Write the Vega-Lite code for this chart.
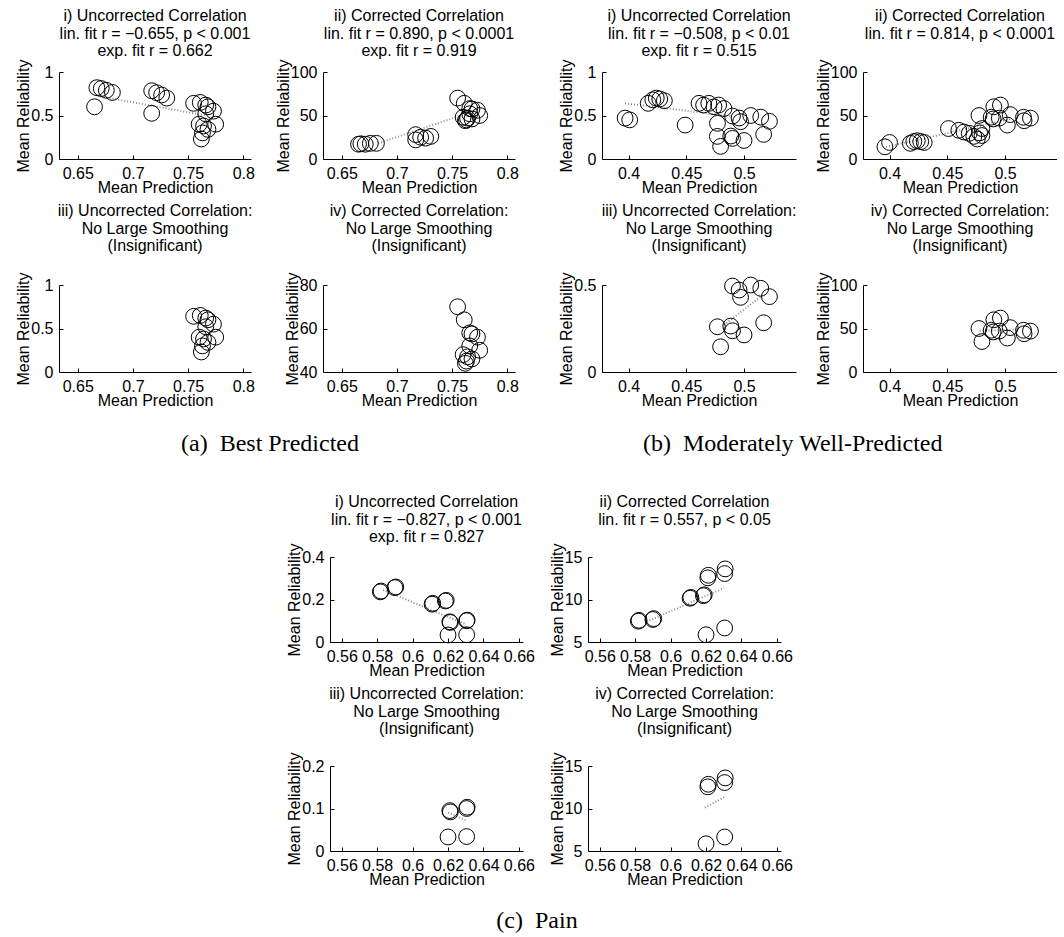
{
"$schema": "https://vega.github.io/schema/vega-lite/v6.json",
"padding": 0,
"config": {
 "view": {"stroke": null},
 "font": "Liberation Sans",
 "axis": {"domainColor": "black", "domainWidth": 1, "tickColor": "black", "tickWidth": 1, "tickSize": -4, "labelColor": "black", "titleColor": "black", "labelFont": "Liberation Sans", "titleFont": "Liberation Sans", "labelFontSize": 16, "titleFontSize": 16, "titleFontWeight": "normal", "grid": false, "labelFlush": false, "labelOverlap": false, "labelPadding": 10},
 "axisX": {"titlePadding": -2},
 "axisY": {"titlePadding": -1},
 "title": {"font": "Liberation Sans", "fontSize": 16, "fontWeight": "normal", "color": "black", "lineHeight": 17.5, "frame": "group", "anchor": "middle"},
 "point": {"shape": "circle", "filled": false, "stroke": "black", "strokeWidth": 1, "size": 250, "opacity": 1},
 "line": {"stroke": "#8c8c8c", "strokeDash": [1, 2], "strokeWidth": 2}
},
"datasets": {
 "a1": [{"pred":0.6652,"rel":0.60},{"pred":0.6673,"rel":0.82},{"pred":0.6713,"rel":0.81},{"pred":0.6759,"rel":0.79},{"pred":0.6814,"rel":0.765},{"pred":0.717,"rel":0.785},{"pred":0.7215,"rel":0.762},{"pred":0.726,"rel":0.736},{"pred":0.7307,"rel":0.70},{"pred":0.717,"rel":0.525},{"pred":0.755,"rel":0.64},{"pred":0.761,"rel":0.65},{"pred":0.766,"rel":0.62},{"pred":0.768,"rel":0.60},{"pred":0.773,"rel":0.55},{"pred":0.775,"rel":0.40},{"pred":0.760,"rel":0.40},{"pred":0.764,"rel":0.38},{"pred":0.768,"rel":0.34},{"pred":0.763,"rel":0.30},{"pred":0.762,"rel":0.23},{"pred":0.766,"rel":0.52}],
 "a2": [{"pred":0.6652,"rel":17},{"pred":0.6673,"rel":17.5},{"pred":0.6713,"rel":17},{"pred":0.6759,"rel":18},{"pred":0.6814,"rel":18},{"pred":0.717,"rel":28},{"pred":0.7215,"rel":25},{"pred":0.726,"rel":24},{"pred":0.7307,"rel":26},{"pred":0.717,"rel":22},{"pred":0.755,"rel":70},{"pred":0.761,"rel":64},{"pred":0.766,"rel":58},{"pred":0.768,"rel":57.5},{"pred":0.773,"rel":56},{"pred":0.775,"rel":50},{"pred":0.760,"rel":48},{"pred":0.764,"rel":47},{"pred":0.768,"rel":46},{"pred":0.763,"rel":45},{"pred":0.762,"rel":44},{"pred":0.766,"rel":52}],
 "a3": [{"pred":0.755,"rel":0.64},{"pred":0.761,"rel":0.65},{"pred":0.766,"rel":0.62},{"pred":0.768,"rel":0.60},{"pred":0.773,"rel":0.55},{"pred":0.775,"rel":0.40},{"pred":0.760,"rel":0.40},{"pred":0.764,"rel":0.38},{"pred":0.768,"rel":0.34},{"pred":0.763,"rel":0.30},{"pred":0.762,"rel":0.23},{"pred":0.766,"rel":0.52}],
 "a4": [{"pred":0.755,"rel":70},{"pred":0.761,"rel":64},{"pred":0.766,"rel":58},{"pred":0.768,"rel":57.5},{"pred":0.773,"rel":56},{"pred":0.775,"rel":50},{"pred":0.760,"rel":48},{"pred":0.764,"rel":47},{"pred":0.768,"rel":46},{"pred":0.763,"rel":45},{"pred":0.762,"rel":44},{"pred":0.766,"rel":52}],
 "fa1": [{"pred":0.668,"rel":0.725},{"pred":0.766,"rel":0.50}],
 "fa2": [{"pred":0.683,"rel":18},{"pred":0.758,"rel":50}],
 "b1": [{"pred":0.397,"rel":0.47},{"pred":0.401,"rel":0.45},{"pred":0.417,"rel":0.64},{"pred":0.421,"rel":0.68},{"pred":0.424,"rel":0.70},{"pred":0.427,"rel":0.69},{"pred":0.431,"rel":0.67},{"pred":0.449,"rel":0.39},{"pred":0.461,"rel":0.64},{"pred":0.465,"rel":0.62},{"pred":0.4695,"rel":0.64},{"pred":0.474,"rel":0.60},{"pred":0.478,"rel":0.62},{"pred":0.4826,"rel":0.58},{"pred":0.477,"rel":0.41},{"pred":0.490,"rel":0.494},{"pred":0.4957,"rel":0.471},{"pred":0.497,"rel":0.429},{"pred":0.5058,"rel":0.50},{"pred":0.5145,"rel":0.481},{"pred":0.522,"rel":0.433},{"pred":0.4769,"rel":0.26},{"pred":0.4885,"rel":0.264},{"pred":0.490,"rel":0.237},{"pred":0.500,"rel":0.213},{"pred":0.4797,"rel":0.145},{"pred":0.517,"rel":0.283}],
 "b2": [{"pred":0.396,"rel":14},{"pred":0.400,"rel":19},{"pred":0.418,"rel":18},{"pred":0.421,"rel":20},{"pred":0.424,"rel":21},{"pred":0.427,"rel":20},{"pred":0.430,"rel":19},{"pred":0.451,"rel":35},{"pred":0.460,"rel":33},{"pred":0.4645,"rel":31},{"pred":0.469,"rel":29.5},{"pred":0.473,"rel":26},{"pred":0.476,"rel":23},{"pred":0.480,"rel":27},{"pred":0.478,"rel":30},{"pred":0.4774,"rel":50},{"pred":0.480,"rel":35},{"pred":0.488,"rel":48},{"pred":0.4903,"rel":60},{"pred":0.496,"rel":62},{"pred":0.4897,"rel":46},{"pred":0.495,"rel":47},{"pred":0.502,"rel":39},{"pred":0.5045,"rel":51},{"pred":0.516,"rel":48},{"pred":0.522,"rel":47},{"pred":0.5165,"rel":44}],
 "b3": [{"pred":0.490,"rel":0.494},{"pred":0.4957,"rel":0.471},{"pred":0.497,"rel":0.429},{"pred":0.5058,"rel":0.50},{"pred":0.5145,"rel":0.481},{"pred":0.522,"rel":0.433},{"pred":0.4769,"rel":0.26},{"pred":0.4885,"rel":0.264},{"pred":0.490,"rel":0.237},{"pred":0.500,"rel":0.213},{"pred":0.4797,"rel":0.145},{"pred":0.517,"rel":0.283}],
 "b4": [{"pred":0.4774,"rel":50},{"pred":0.480,"rel":35},{"pred":0.488,"rel":48},{"pred":0.4903,"rel":60},{"pred":0.496,"rel":62},{"pred":0.4897,"rel":46},{"pred":0.495,"rel":47},{"pred":0.502,"rel":39},{"pred":0.5045,"rel":51},{"pred":0.516,"rel":48},{"pred":0.522,"rel":47},{"pred":0.5165,"rel":44}],
 "fb1": [{"pred":0.397,"rel":0.64},{"pred":0.49,"rel":0.49}],
 "fb2": [{"pred":0.397,"rel":14},{"pred":0.505,"rel":46}],
 "fb3": [{"pred":0.4826,"rel":0.27},{"pred":0.5145,"rel":0.433}],
 "fb4": [{"pred":0.478,"rel":47},{"pred":0.512,"rel":49}],
 "c1": [{"pred":0.5818,"rel":0.236},{"pred":0.5822,"rel":0.240},{"pred":0.5900,"rel":0.256},{"pred":0.5905,"rel":0.259},{"pred":0.6110,"rel":0.178},{"pred":0.6114,"rel":0.182},{"pred":0.6185,"rel":0.193},{"pred":0.6190,"rel":0.196},{"pred":0.6210,"rel":0.095},{"pred":0.6213,"rel":0.092},{"pred":0.6305,"rel":0.100},{"pred":0.6308,"rel":0.103},{"pred":0.6200,"rel":0.033},{"pred":0.6305,"rel":0.034}],
 "c2": [{"pred":0.5818,"rel":7.45},{"pred":0.5822,"rel":7.55},{"pred":0.5900,"rel":7.65},{"pred":0.5905,"rel":7.75},{"pred":0.6110,"rel":10.15},{"pred":0.6114,"rel":10.25},{"pred":0.6185,"rel":10.45},{"pred":0.6190,"rel":10.55},{"pred":0.6210,"rel":12.55},{"pred":0.6213,"rel":12.85},{"pred":0.6305,"rel":13.05},{"pred":0.6308,"rel":13.6},{"pred":0.6200,"rel":5.85},{"pred":0.6305,"rel":6.65}],
 "c3": [{"pred":0.6210,"rel":0.095},{"pred":0.6213,"rel":0.092},{"pred":0.6305,"rel":0.100},{"pred":0.6308,"rel":0.103},{"pred":0.6200,"rel":0.033},{"pred":0.6305,"rel":0.034}],
 "c4": [{"pred":0.6210,"rel":12.55},{"pred":0.6213,"rel":12.85},{"pred":0.6305,"rel":13.05},{"pred":0.6308,"rel":13.6},{"pred":0.6200,"rel":5.85},{"pred":0.6305,"rel":6.65}],
 "fc1": [{"pred":0.5834,"rel":0.245},{"pred":0.6303,"rel":0.082}],
 "fc2": [{"pred":0.5865,"rel":7.4},{"pred":0.6302,"rel":11.35}],
 "fc3": [{"pred":0.620,"rel":0.09},{"pred":0.630,"rel":0.0725}],
 "fc4": [{"pred":0.6193,"rel":10.1},{"pred":0.6313,"rel":11.45}],
 "capa": [{"cap":"(a)\u00a0 Best Predicted"}],
 "capb": [{"cap":"(b)\u00a0 Moderately Well-Predicted"}],
 "capc": [{"cap":"(c)\u00a0 Pain"}],
 "none": []
},
"spacing": 0,
"vconcat": [
{
"columns": 8,
"spacing": 0,
"bounds": "flush",
"concat": [
 {"width":59,"height":72,"data":{"name":"none"},"mark":"text"},
 {"width":1,"height":1,"data":{"name":"none"},"mark":"text"},
 {"width":1,"height":1,"data":{"name":"none"},"mark":"text"},
 {"width":1,"height":1,"data":{"name":"none"},"mark":"text"},
 {"width":1,"height":1,"data":{"name":"none"},"mark":"text"},
 {"width":1,"height":1,"data":{"name":"none"},"mark":"text"},
 {"width":1,"height":1,"data":{"name":"none"},"mark":"text"},
 {"width":1,"height":1,"data":{"name":"none"},"mark":"text"},

 {"width":59,"height":1,"data":{"name":"none"},"mark":"text"},
 {"width":192,"height":87,
  "title":{"text":["i) Uncorrected Correlation","lin. fit r = \u22120.655, p < 0.001","exp. fit r = 0.662"],"offset":0},
  "encoding":{"x":{"field":"pred","type":"quantitative","scale":{"domain":[0.633,0.807],"nice":false,"zero":false},"axis":{"title":"Mean Prediction","values":[0.65,0.7,0.75,0.8],"format":"~r"}},
   "y":{"field":"rel","type":"quantitative","scale":{"domain":[0,1],"nice":false,"zero":false},"axis":{"title":"Mean Reliability","values":[0,0.5,1],"format":"~r"}}},
  "layer":[{"data":{"name":"fa1"},"mark":"line","encoding":{}},{"data":{"name":"a1"},"mark":"point"}]},
 {"width":72,"height":213,"data":{"name":"none"},"mark":"text"},
 {"width":192,"height":87,
  "title":{"text":["ii) Corrected Correlation","lin. fit r = 0.890, p < 0.0001","exp. fit r = 0.919"],"offset":0},
  "encoding":{"x":{"field":"pred","type":"quantitative","scale":{"domain":[0.633,0.807],"nice":false,"zero":false},"axis":{"title":"Mean Prediction","values":[0.65,0.7,0.75,0.8],"format":"~r"}},
   "y":{"field":"rel","type":"quantitative","scale":{"domain":[0,100],"nice":false,"zero":false},"axis":{"title":"Mean Reliability","values":[0,50,100],"format":"~r"}}},
  "layer":[{"data":{"name":"fa2"},"mark":"line","encoding":{}},{"data":{"name":"a2"},"mark":"point"}]},
 {"width":87,"height":1,"data":{"name":"none"},"mark":"text"},
 {"width":194,"height":87,
  "title":{"text":["i) Uncorrected Correlation","lin. fit r = \u22120.508, p < 0.01","exp. fit r = 0.515"],"offset":0},
  "encoding":{"x":{"field":"pred","type":"quantitative","scale":{"domain":[0.377,0.545],"nice":false,"zero":false},"axis":{"title":"Mean Prediction","values":[0.4,0.45,0.5],"format":"~r"}},
   "y":{"field":"rel","type":"quantitative","scale":{"domain":[0,1],"nice":false,"zero":false},"axis":{"title":"Mean Reliability","values":[0,0.5,1],"format":"~r"}}},
  "layer":[{"data":{"name":"fb1"},"mark":"line","encoding":{}},{"data":{"name":"b1"},"mark":"point"}]},
 {"width":67,"height":1,"data":{"name":"none"},"mark":"text"},
 {"width":194,"height":87,
  "title":{"text":["ii) Corrected Correlation","lin. fit r = 0.814, p < 0.0001"],"offset":17.5},
  "encoding":{"x":{"field":"pred","type":"quantitative","scale":{"domain":[0.377,0.545],"nice":false,"zero":false},"axis":{"title":"Mean Prediction","values":[0.4,0.45,0.5],"format":"~r"}},
   "y":{"field":"rel","type":"quantitative","scale":{"domain":[0,100],"nice":false,"zero":false},"axis":{"title":"Mean Reliability","values":[0,50,100],"format":"~r"}}},
  "layer":[{"data":{"name":"fb2"},"mark":"line","encoding":{}},{"data":{"name":"b2"},"mark":"point"}]},

 {"width":59,"height":1,"data":{"name":"none"},"mark":"text"},
 {"width":192,"height":87,
  "title":{"text":["iii) Uncorrected Correlation:","No Large Smoothing","(Insignificant)"],"offset":18},
  "data":{"name":"a3"},"mark":"point",
  "encoding":{"x":{"field":"pred","type":"quantitative","scale":{"domain":[0.633,0.807],"nice":false,"zero":false},"axis":{"title":"Mean Prediction","values":[0.65,0.7,0.75,0.8],"format":"~r"}},
   "y":{"field":"rel","type":"quantitative","scale":{"domain":[0,1],"nice":false,"zero":false},"axis":{"title":"Mean Reliability","values":[0,0.5,1],"format":"~r"}}}},
 {"width":72,"height":87,"data":{"name":"none"},"mark":"text"},
 {"width":192,"height":87,
  "title":{"text":["iv) Corrected Correlation:","No Large Smoothing","(Insignificant)"],"offset":18},
  "data":{"name":"a4"},"mark":"point",
  "encoding":{"x":{"field":"pred","type":"quantitative","scale":{"domain":[0.633,0.807],"nice":false,"zero":false},"axis":{"title":"Mean Prediction","values":[0.65,0.7,0.75,0.8],"format":"~r"}},
   "y":{"field":"rel","type":"quantitative","scale":{"domain":[40,80],"nice":false,"zero":false},"axis":{"title":"Mean Reliability","values":[40,60,80],"format":"~r"}}}},
 {"width":87,"height":1,"data":{"name":"none"},"mark":"text"},
 {"width":194,"height":87,
  "title":{"text":["iii) Uncorrected Correlation:","No Large Smoothing","(Insignificant)"],"offset":18},
  "encoding":{"x":{"field":"pred","type":"quantitative","scale":{"domain":[0.377,0.545],"nice":false,"zero":false},"axis":{"title":"Mean Prediction","values":[0.4,0.45,0.5],"format":"~r"}},
   "y":{"field":"rel","type":"quantitative","scale":{"domain":[0,0.5],"nice":false,"zero":false},"axis":{"title":"Mean Reliability","values":[0,0.5],"format":"~r"}}},
  "layer":[{"data":{"name":"fb3"},"mark":"line","encoding":{}},{"data":{"name":"b3"},"mark":"point"}]},
 {"width":67,"height":1,"data":{"name":"none"},"mark":"text"},
 {"width":194,"height":87,
  "title":{"text":["iv) Corrected Correlation:","No Large Smoothing","(Insignificant)"],"offset":18},
  "encoding":{"x":{"field":"pred","type":"quantitative","scale":{"domain":[0.377,0.545],"nice":false,"zero":false},"axis":{"title":"Mean Prediction","values":[0.4,0.45,0.5],"format":"~r"}},
   "y":{"field":"rel","type":"quantitative","scale":{"domain":[0,100],"nice":false,"zero":false},"axis":{"title":"Mean Reliability","values":[0,50,100],"format":"~r"}}},
  "layer":[{"data":{"name":"fb4"},"mark":"line","encoding":{}},{"data":{"name":"b4"},"mark":"point"}]},

 {"width":1,"height":48,"data":{"name":"none"},"mark":"text"},
 {"width":1,"height":1,"data":{"name":"none"},"mark":"text"},
 {"width":1,"height":1,"data":{"name":"none"},"mark":"text"},
 {"width":1,"height":1,"data":{"name":"none"},"mark":"text"},
 {"width":1,"height":1,"data":{"name":"none"},"mark":"text"},
 {"width":1,"height":1,"data":{"name":"none"},"mark":"text"},
 {"width":1,"height":1,"data":{"name":"none"},"mark":"text"},
 {"width":1,"height":1,"data":{"name":"none"},"mark":"text"}
]
},
{
"columns": 4,
"spacing": 0,
"bounds": "flush",
"concat": [
 {"width":1,"height":137,"data":{"name":"none"},"mark":"text"},
 {"width":58,"height":48,"data":{"name":"capa"},"mark":{"type":"text","align":"right","font":"Liberation Serif","fontSize":24,"color":"black"},"encoding":{"text":{"field":"cap"}}},
 {"width":1,"height":1,"data":{"name":"none"},"mark":"text"},
 {"width":110,"height":48,"data":{"name":"capb"},"mark":{"type":"text","align":"left","font":"Liberation Serif","fontSize":24,"color":"black"},"encoding":{"text":{"field":"cap"}}},

 {"width":330,"height":1,"data":{"name":"none"},"mark":"text"},
 {"width":193,"height":85,
  "title":{"text":["i) Uncorrected Correlation","lin. fit r = \u22120.827, p < 0.001","exp. fit r = 0.827"],"offset":-2},
  "encoding":{"x":{"field":"pred","type":"quantitative","scale":{"domain":[0.5534,0.6623],"nice":false,"zero":false},"axis":{"title":"Mean Prediction","values":[0.56,0.58,0.6,0.62,0.64,0.66],"format":"~r"}},
   "y":{"field":"rel","type":"quantitative","scale":{"domain":[0,0.4],"nice":false,"zero":false},"axis":{"title":"Mean Reliability","values":[0,0.2,0.4],"format":"~r"}}},
  "layer":[{"data":{"name":"fc1"},"mark":"line","encoding":{}},{"data":{"name":"c1"},"mark":"point"}]},
 {"width":65,"height":209,"data":{"name":"none"},"mark":"text"},
 {"width":193,"height":85,
  "title":{"text":["ii) Corrected Correlation","lin. fit r = 0.557, p < 0.05"],"offset":15.5},
  "encoding":{"x":{"field":"pred","type":"quantitative","scale":{"domain":[0.5534,0.6623],"nice":false,"zero":false},"axis":{"title":"Mean Prediction","values":[0.56,0.58,0.6,0.62,0.64,0.66],"format":"~r"}},
   "y":{"field":"rel","type":"quantitative","scale":{"domain":[5,15],"nice":false,"zero":false},"axis":{"title":"Mean Reliability","values":[5,10,15],"format":"~r"}}},
  "layer":[{"data":{"name":"fc2"},"mark":"line","encoding":{}},{"data":{"name":"c2"},"mark":"point"}]},

 {"width":330,"height":1,"data":{"name":"none"},"mark":"text"},
 {"width":193,"height":85,
  "title":{"text":["iii) Uncorrected Correlation:","No Large Smoothing","(Insignificant)"],"offset":15},
  "encoding":{"x":{"field":"pred","type":"quantitative","scale":{"domain":[0.5534,0.6623],"nice":false,"zero":false},"axis":{"title":"Mean Prediction","values":[0.56,0.58,0.6,0.62,0.64,0.66],"format":"~r"}},
   "y":{"field":"rel","type":"quantitative","scale":{"domain":[0,0.2],"nice":false,"zero":false},"axis":{"title":"Mean Reliability","values":[0,0.1,0.2],"format":"~r"}}},
  "layer":[{"data":{"name":"fc3"},"mark":"line","encoding":{}},{"data":{"name":"c3"},"mark":"point"}]},
 {"width":65,"height":140,"data":{"name":"none"},"mark":"text"},
 {"width":193,"height":85,
  "title":{"text":["iv) Corrected Correlation:","No Large Smoothing","(Insignificant)"],"offset":15},
  "encoding":{"x":{"field":"pred","type":"quantitative","scale":{"domain":[0.5534,0.6623],"nice":false,"zero":false},"axis":{"title":"Mean Prediction","values":[0.56,0.58,0.6,0.62,0.64,0.66],"format":"~r"}},
   "y":{"field":"rel","type":"quantitative","scale":{"domain":[5,15],"nice":false,"zero":false},"axis":{"title":"Mean Reliability","values":[5,10,15],"format":"~r"}}},
  "layer":[{"data":{"name":"fc4"},"mark":"line","encoding":{}},{"data":{"name":"c4"},"mark":"point"}]},

 {"width":1,"height":1,"data":{"name":"none"},"mark":"text"},
 {"width":1,"height":1,"data":{"name":"none"},"mark":"text"},
 {"width":28,"height":30,"data":{"name":"capc"},"mark":{"type":"text","font":"Liberation Serif","fontSize":24,"color":"black"},"encoding":{"text":{"field":"cap"}}}
]
}
]
}
